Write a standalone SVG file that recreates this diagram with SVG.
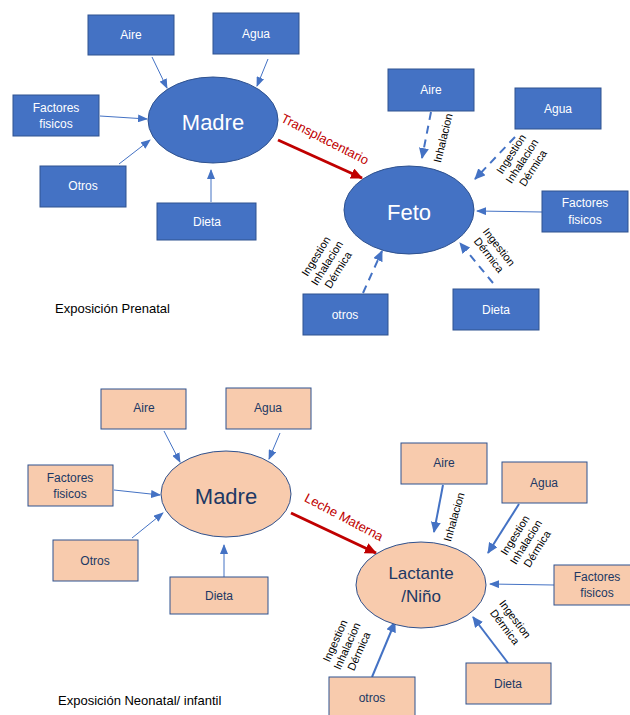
<svg xmlns="http://www.w3.org/2000/svg" width="630" height="715" viewBox="0 0 630 715">
<style>
.bt rect,.bt ellipse{fill:#4472C4;stroke:#2F528F;stroke-width:1}
.bt text{fill:#fff}
.pk rect,.pk ellipse{fill:#F8CBAD;stroke:#2F528F;stroke-width:1}
.pk text{fill:#203864}
text{font-family:"Liberation Sans",Arial,sans-serif;font-size:12px;text-anchor:middle}
.big{font-size:22px}
.mid{font-size:17px}
.lab{font-size:11px;fill:#000}
.red{font-size:13px;fill:#C00000}
.cap{font-size:13px;text-anchor:start;fill:#000}
.thin{stroke:#4472C4;stroke-width:1;fill:none;marker-end:url(#ah)}
.dash{stroke:#4472C4;stroke-width:2;fill:none;stroke-dasharray:8,6;marker-end:url(#ah2)}
.sol{stroke:#4472C4;stroke-width:2;fill:none;marker-end:url(#ah2)}
.redl{stroke:#C00000;stroke-width:3;fill:none;marker-end:url(#ahr)}
</style>
<defs>
<marker id="ah" markerUnits="userSpaceOnUse" markerWidth="10" markerHeight="8" refX="9" refY="4" orient="auto"><path d="M0,0 L10,4 L0,8 z" fill="#4472C4"/></marker>
<marker id="ah2" markerUnits="userSpaceOnUse" markerWidth="11" markerHeight="10" refX="10" refY="5" orient="auto"><path d="M0,0 L11,5 L0,10 z" fill="#4472C4"/></marker>
<marker id="ahr" markerUnits="userSpaceOnUse" markerWidth="12" markerHeight="11" refX="11" refY="5.5" orient="auto"><path d="M0,0 L12,5.5 L0,11 z" fill="#C00000"/></marker>
</defs>

<g id="connectors">
<line class="thin" x1="152" y1="57" x2="167" y2="88"/>
<line class="thin" x1="268" y1="59" x2="257" y2="86"/>
<line class="thin" x1="100" y1="116" x2="147" y2="119"/>
<line class="thin" x1="119" y1="164" x2="150" y2="140"/>
<line class="thin" x1="211" y1="202" x2="211" y2="170"/>
<line class="redl" x1="278" y1="140" x2="362" y2="178"/>
<line class="dash" x1="431" y1="112" x2="422" y2="158"/>
<line class="dash" x1="515" y1="137" x2="475" y2="179"/>
<line class="thin" x1="542" y1="212" x2="477" y2="211"/>
<line class="dash" x1="363" y1="293" x2="382" y2="251"/>
<line class="dash" x1="493" y1="283" x2="460" y2="243"/>

<line class="thin" x1="164" y1="431" x2="180" y2="462"/>
<line class="thin" x1="280" y1="433" x2="269" y2="459"/>
<line class="thin" x1="114" y1="490" x2="160" y2="495"/>
<line class="thin" x1="132" y1="538" x2="163" y2="513"/>
<line class="thin" x1="224" y1="577" x2="224" y2="545"/>
<line class="redl" x1="291" y1="513" x2="376" y2="553"/>
<line class="sol" x1="443" y1="485" x2="434" y2="532"/>
<line class="sol" x1="519" y1="504" x2="488" y2="553"/>
<line class="thin" x1="554" y1="585" x2="490" y2="584"/>
<line class="sol" x1="372" y1="677" x2="395" y2="622"/>
<line class="sol" x1="508" y1="663" x2="473" y2="617"/>
</g>

<g id="edge-labels">
<text class="red" transform="translate(325,139) rotate(27)" dy="0.35em">Transplacentario</text>
<text class="lab" transform="translate(443,138) rotate(-76)" dy="0.35em">Inhalacion</text>
<g transform="translate(522,161) rotate(-57)">
<text class="lab" y="-13" dy="0.35em">Ingestion</text>
<text class="lab" y="0" dy="0.35em">Inhalacion</text>
<text class="lab" y="13" dy="0.35em">Dérmica</text>
</g>
<g transform="translate(327,263) rotate(-58)">
<text class="lab" y="-13" dy="0.35em">Ingestion</text>
<text class="lab" y="0" dy="0.35em">Inhalacion</text>
<text class="lab" y="13" dy="0.35em">Dérmica</text>
</g>
<g transform="translate(494,251) rotate(52)">
<text class="lab" y="-6.5" dy="0.35em">Ingestion</text>
<text class="lab" y="6.5" dy="0.35em">Dérmica</text>
</g>

<text class="red" transform="translate(344,517) rotate(28)" dy="0.35em">Leche Materna</text>
<text class="lab" transform="translate(454,517) rotate(-74)" dy="0.35em">Inhalacion</text>
<g transform="translate(526,542) rotate(-58)">
<text class="lab" y="-13" dy="0.35em">Ingestion</text>
<text class="lab" y="0" dy="0.35em">Inhalacion</text>
<text class="lab" y="13" dy="0.35em">Dérmica</text>
</g>
<g transform="translate(347,646) rotate(-66)">
<text class="lab" y="-13" dy="0.35em">Ingestion</text>
<text class="lab" y="0" dy="0.35em">Inhalacion</text>
<text class="lab" y="13" dy="0.35em">Dérmica</text>
</g>
<g transform="translate(510,623) rotate(53)">
<text class="lab" y="-6.5" dy="0.35em">Ingestion</text>
<text class="lab" y="6.5" dy="0.35em">Dérmica</text>
</g>
</g>

<g id="t-aire" class="bt"><rect x="88" y="15" width="86" height="40"/><text x="131" y="39">Aire</text></g>
<g id="t-agua" class="bt"><rect x="213" y="13" width="86" height="41"/><text x="256" y="38">Agua</text></g>
<g id="t-factores" class="bt"><rect x="13" y="95" width="86" height="41"/><text x="56" y="112">Factores</text><text x="56" y="128">fisicos</text></g>
<g id="t-otros" class="bt"><rect x="40" y="166" width="86" height="41"/><text x="83" y="190">Otros</text></g>
<g id="t-dieta" class="bt"><rect x="157" y="203" width="99" height="37"/><text x="207" y="226">Dieta</text></g>
<g id="t-madre" class="bt"><ellipse cx="213" cy="120" rx="65" ry="43"/><text class="big" x="213" y="130">Madre</text></g>

<g id="f-aire" class="bt"><rect x="388" y="69" width="86" height="42"/><text x="431" y="94">Aire</text></g>
<g id="f-agua" class="bt"><rect x="515" y="88" width="86" height="41"/><text x="558" y="113">Agua</text></g>
<g id="f-factores" class="bt"><rect x="542" y="191" width="86" height="41"/><text x="585" y="207">Factores</text><text x="585" y="224">fisicos</text></g>
<g id="f-otros" class="bt"><rect x="303" y="294" width="85" height="41"/><text x="345" y="319">otros</text></g>
<g id="f-dieta" class="bt"><rect x="453" y="289" width="86" height="41"/><text x="496" y="314">Dieta</text></g>
<g id="feto" class="bt"><ellipse cx="409" cy="210" rx="65" ry="44"/><text class="big" x="409" y="220">Feto</text></g>

<text id="cap-prenatal" class="cap" x="55" y="313">Exposición Prenatal</text>

<g id="b-aire" class="pk"><rect x="101" y="389" width="85" height="40"/><text x="144" y="412">Aire</text></g>
<g id="b-agua" class="pk"><rect x="226" y="388" width="85" height="41"/><text x="268" y="412">Agua</text></g>
<g id="b-factores" class="pk"><rect x="28" y="465" width="85" height="41"/><text x="70" y="482">Factores</text><text x="70" y="498">fisicos</text></g>
<g id="b-otros" class="pk"><rect x="53" y="540" width="85" height="41"/><text x="95" y="565">Otros</text></g>
<g id="b-dieta" class="pk"><rect x="170" y="577" width="98" height="37"/><text x="219" y="600">Dieta</text></g>
<g id="b-madre" class="pk"><ellipse cx="226" cy="494" rx="65" ry="43"/><text class="big" x="226" y="504">Madre</text></g>

<g id="n-aire" class="pk"><rect x="401" y="443" width="86" height="41"/><text x="444" y="467">Aire</text></g>
<g id="n-agua" class="pk"><rect x="502" y="462" width="85" height="41"/><text x="544" y="487">Agua</text></g>
<g id="n-factores" class="pk"><rect x="554" y="565" width="86" height="40"/><text x="597" y="581">Factores</text><text x="597" y="597">fisicos</text></g>
<g id="n-otros" class="pk"><rect x="329" y="677" width="86" height="41"/><text x="372" y="702">otros</text></g>
<g id="n-dieta" class="pk"><rect x="466" y="663" width="85" height="41"/><text x="508" y="688">Dieta</text></g>
<g id="lactante" class="pk"><ellipse cx="421" cy="585" rx="65" ry="43"/><text class="mid" x="421" y="579">Lactante</text><text class="mid" x="421" y="602">/Niño</text></g>

<text id="cap-neonatal" class="cap" x="58" y="705">Exposición Neonatal/ infantil</text>
</svg>
